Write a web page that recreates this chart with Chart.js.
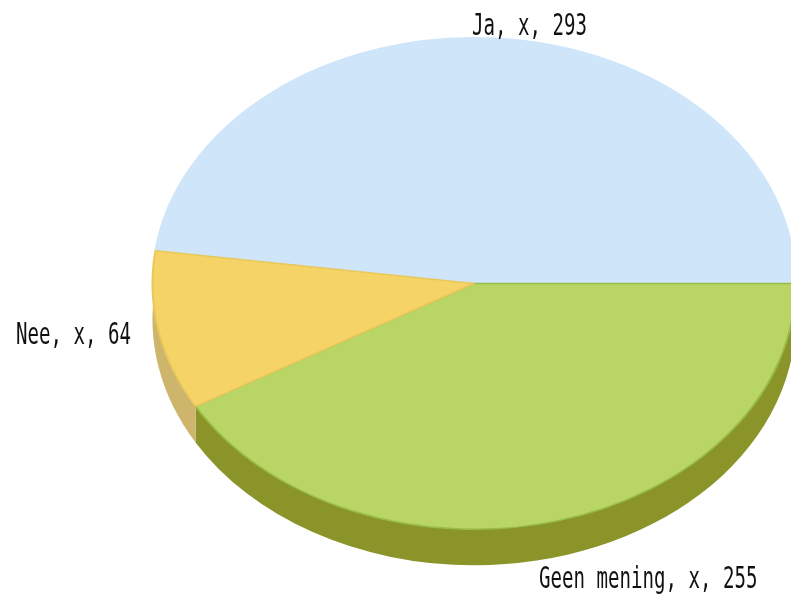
<!DOCTYPE html>
<html>
<head>
<meta charset="utf-8">
<style>html,body{margin:0;padding:0;background:#fff}canvas{display:block}</style>
<script src="https://cdn.jsdelivr.net/npm/chart.js@4"></script>
</head>
<body>
<canvas id="c" width="791" height="596"></canvas>
<script>
const categories = ["Ja", "Geen mening", "Nee"];
const seriesName = "x";
const values = [293, 255, 64];
const topColors = ["#CFE5FA", "#B9D565", "#F6D366"];
const edgeColors = ["#CFE5FA", "#98BD45", "#E8C85C"];
const sideColors = ["#9DB0C4", "#8A9429", "#CDB66C"];
const labelAnchors = [[472, 35], [539, 588], [16, 344]];
const depth = 36;
const stretchX = 322.5 / 246.5;

const tilt = {
  id: "tilt",
  beforeDatasetsDraw(chart) {
    const ctx = chart.ctx, arcs = chart.getDatasetMeta(0).data;
    const { x, y } = arcs[0];
    ctx.save();
    ctx.translate(x, y);
    ctx.scale(stretchX, 1);
    ctx.translate(-x, -y);
    arcs.forEach((a, i) => {
      ctx.beginPath();
      ctx.arc(a.x, a.y + depth, a.outerRadius, a.startAngle, a.endAngle);
      ctx.arc(a.x, a.y, a.outerRadius, a.endAngle, a.startAngle, true);
      ctx.closePath();
      ctx.fillStyle = sideColors[i];
      ctx.fill();
    });
  },
  afterDatasetsDraw(chart) {
    chart.ctx.restore();
  },
  afterDraw(chart) {
    const ctx = chart.ctx;
    ctx.save();
    ctx.fillStyle = "#111";
    ctx.textBaseline = "alphabetic";
    ctx.textAlign = "left";
    ctx.font = "31px 'DejaVu Sans Mono'";
    ctx.filter = "blur(0.4px)";
    categories.forEach((c, i) => {
      const [px, py] = labelAnchors[i];
      ctx.save();
      ctx.translate(px, py);
      ctx.scale(0.616, 1);
      ctx.fillText(c + ", " + seriesName + ", " + values[i], 0, 0);
      ctx.restore();
    });
    ctx.restore();
  }
};

new Chart(document.getElementById("c"), {
  type: "pie",
  data: {
    labels: categories,
    datasets: [{
      label: seriesName,
      data: values,
      backgroundColor: topColors,
      borderColor: edgeColors,
      borderWidth: 1.5,
      clip: false
    }]
  },
  options: {
    responsive: false,
    animation: false,
    rotation: 90 - 360 * values[0] / values.reduce((a, b) => a + b, 0),
    layout: { padding: { left: 157, right: 0, top: 37, bottom: 66 } },
    plugins: { legend: { display: false }, tooltip: { enabled: false } }
  },
  plugins: [tilt]
});
</script>
</body>
</html>
